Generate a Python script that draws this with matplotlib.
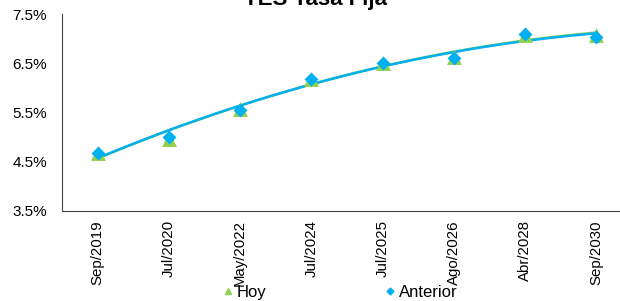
import numpy as np
import matplotlib.pyplot as plt
from matplotlib.lines import Line2D

plt.rcParams['font.family'] = ['Liberation Sans', 'DejaVu Sans']

# data
labels = ["Sep/2019", "Jul/2020", "May/2022", "Jul/2024",
          "Jul/2025", "Ago/2026", "Abr/2028", "Sep/2030"]
hoy = [4.68, 4.97, 5.57, 6.19, 6.50, 6.62, 7.07, 7.07]
anterior = [4.68, 5.00, 5.55, 6.19, 6.50, 6.60, 7.09, 7.04]

green = "#92D050"
blue = "#00B0F0"

x = np.arange(len(labels))

fig = plt.figure(figsize=(6.2, 3.01), dpi=100)
ax = fig.add_axes([62 / 620, 90 / 301, 570 / 620, 197 / 301])

# polynomial trendlines (order 2), like the spreadsheet
xs = np.linspace(0, len(labels) - 1, 200)
for vals, col in [(hoy, green), (anterior, blue)]:
    c = np.polyfit(x + 1, vals, 2)
    ax.plot(xs, np.polyval(c, xs + 1), color=col, lw=1.8, zorder=2)

ax.scatter(x, hoy, marker="^", s=115, color=green, lw=0, zorder=3)
ax.scatter(x, anterior, marker="D", s=50, color=blue, lw=0, zorder=4)

ax.set_xlim(-0.5, len(labels) - 0.5)
ax.set_ylim(3.5, 7.5)
ax.set_yticks([3.5, 4.5, 5.5, 6.5, 7.5])
ax.set_yticklabels(["3.5%", "4.5%", "5.5%", "6.5%", "7.5%"], fontsize=11)
ax.set_xticks(x)
ax.set_xticklabels(labels, rotation=90, fontsize=10.8)
ax.tick_params(length=0)
ax.tick_params(axis="x", pad=6.5)
ax.tick_params(axis="y", pad=10.8)
ax.spines["top"].set_visible(False)
ax.spines["right"].set_visible(False)
ax.spines["left"].set_color("#404040")
ax.spines["bottom"].set_color("#404040")

fig.text(315 / 620, 1 - 5 / 301, "TES Tasa Fija", ha="center", va="baseline",
         fontsize=16, fontweight="bold")

handles = [Line2D([], [], marker="^", color=green, ls="none", ms=5),
           Line2D([], [], marker="D", color=blue, ls="none", ms=3.5)]
fig.legend(handles, ["Hoy", "Anterior"], loc="lower left",
           bbox_to_anchor=(221 / 620, 0.003), ncol=2, frameon=False,
           fontsize=12, handletextpad=0.15, columnspacing=7.0,
           handlelength=0.8, borderpad=0, borderaxespad=0)

fig.savefig("out.png", dpi=100)
